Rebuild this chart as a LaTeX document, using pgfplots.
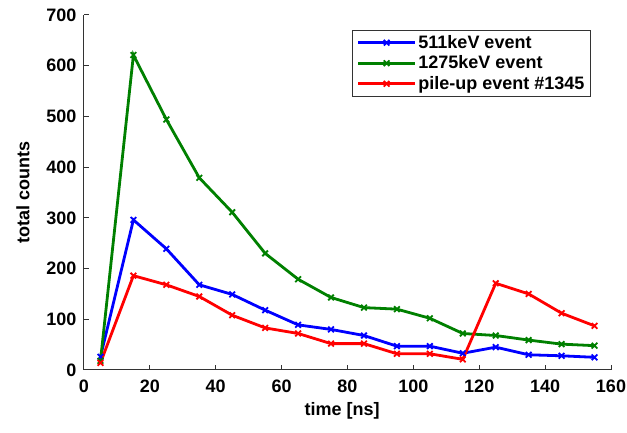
\documentclass[border=0pt]{standalone}
\usepackage{fontspec}
\setmainfont{Liberation Sans}
\usepackage{pgfplots}
\pgfplotsset{compat=1.18}

\definecolor{mgreen}{RGB}{0,128,0}
\newcommand{\chartfont}{\fontsize{18}{21}\selectfont\bfseries}

\begin{document}
\begin{tikzpicture}
\begin{axis}[
    scale only axis,
    width=527pt,
    height=355pt,
    xmin=0, xmax=160,
    ymin=0, ymax=700,
    axis x line*=bottom,
    axis y line*=left,
    axis line style={-, line width=1pt, black!80},
    tick align=inside,
    major tick length=5pt,
    tick style={line width=1pt, black!80},
    xtick={0,20,...,160},
    ytick={0,100,...,700},
    tick label style={font=\chartfont},
    yticklabel style={xshift=-4pt},
    xticklabel style={yshift=-6pt},
    label style={font=\chartfont},
    /pgf/number format/assume math mode=true,
    xlabel={time [ns]},
    ylabel={total counts},
    xlabel style={at={(axis description cs:0.49,-0.0817)}, anchor=north},
    ylabel style={at={(axis description cs:-0.0968,0.5)}, anchor=south},
    legend style={at={(0.509,0.958)}, anchor=north west, draw=black!80,
        line width=1pt, inner xsep=4pt, inner ysep=3pt, row sep=2pt,
        font=\chartfont},
    legend cell align=left,
    legend image code/.code={
        \draw[mark repeat=2,mark phase=2,#1]
            plot coordinates {(0cm,0cm) (1cm,0cm) (2cm,0cm)};
    },
    every axis plot/.append style={line width=2.8pt, mark=x, mark size=4pt,
        mark options={line width=1.8pt}},
]
\addplot[blue] coordinates {
(5,26) (15,296) (25,239) (35,168) (45,149) (55,118) (65,89) (75,80)
(85,68) (95,47) (105,47) (115,33) (125,45) (135,30) (145,28) (155,25)
};
\addlegendentry{511keV event}
\addplot[mgreen] coordinates {
(5,18) (15,621) (25,494) (35,379) (45,311) (55,230) (65,179) (75,143)
(85,123) (95,120) (105,102) (115,72) (125,68) (135,59) (145,51) (155,48)
};
\addlegendentry{1275keV event}
\addplot[red] coordinates {
(5,14) (15,186) (25,168) (35,145) (45,108) (55,83) (65,72) (75,52)
(85,52) (95,32) (105,32) (115,21) (125,171) (135,150) (145,112) (155,87)
};
\addlegendentry{pile-up event \#1345}
\end{axis}
\pgfresetboundingbox
\path (-84pt,-63pt) rectangle (543pt,370pt);
\end{tikzpicture}
\end{document}
